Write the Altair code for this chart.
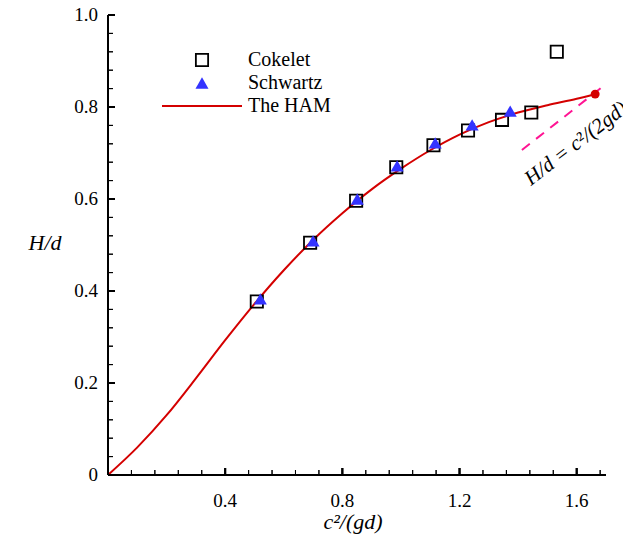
import altair as alt
import pandas as pd

# ---- data ----
cokelet_x = [0.508, 0.690, 0.847, 0.984, 1.111, 1.229, 1.345, 1.445, 1.532]
cokelet_y = [0.377, 0.505, 0.596, 0.669, 0.717, 0.749, 0.772, 0.788, 0.920]

schwartz_x = [0.520, 0.700, 0.851, 0.987, 1.117, 1.243, 1.373]
schwartz_y = [0.383, 0.509, 0.600, 0.672, 0.722, 0.761, 0.791]

ham_x = [0.0, 0.1, 0.2, 0.3, 0.4, 0.5, 0.6, 0.7, 0.8, 0.9, 1.0, 1.1, 1.2, 1.3, 1.4, 1.5, 1.6, 1.663]
ham_y = [0.0, 0.060, 0.130, 0.210, 0.293, 0.372, 0.445, 0.511, 0.569, 0.621, 0.666, 0.706, 0.740, 0.767, 0.788, 0.804, 0.818, 0.828]

ham_end_x = [1.663]
ham_end_y = [0.828]

limit_x = [1.413, 1.70]
limit_y = [0.7065, 0.85]

limit_label = ["H/d = c²/(2gd)"]
limit_label_x = [1.598]
limit_label_y = [0.720]

x_major = [0.4, 0.8, 1.2, 1.6]
x_major_labels = ["0.4", "0.8", "1.2", "1.6"]
x_minor = [0.08, 0.16, 0.24, 0.32, 0.48, 0.56, 0.64, 0.72, 0.88, 0.96, 1.04, 1.12,
           1.28, 1.36, 1.44, 1.52, 1.68]
y_major = [0.0, 0.2, 0.4, 0.6, 0.8, 1.0]
y_major_labels = ["0", "0.2", "0.4", "0.6", "0.8", "1.0"]
y_minor = [0.04, 0.08, 0.12, 0.16, 0.24, 0.28, 0.32, 0.36, 0.44, 0.48, 0.52, 0.56,
           0.64, 0.68, 0.72, 0.76, 0.84, 0.88, 0.92, 0.96]

x_title = ["c²/(gd)"]
y_title = ["H/d"]
legend_names = ["Cokelet", "Schwartz", "The HAM"]

# ---- styling ----
W, H = 498, 460
FONT = "Liberation Serif"
RED = "#d40000"
BLUE = "#3333ff"
PINK = "#ff1493"

xs = alt.Scale(domain=[0, 1.7], nice=False, zero=False)
ys = alt.Scale(domain=[0, 1.0], nice=False, zero=False)


def X(f):
    return alt.X(f, scale=xs, axis=None)


def Y(f):
    return alt.Y(f, scale=ys, axis=None)


df_c = pd.DataFrame({"x": cokelet_x, "y": cokelet_y})
df_s = pd.DataFrame({"x": schwartz_x, "y": schwartz_y})
df_h = pd.DataFrame({"x": ham_x, "y": ham_y})
df_e = pd.DataFrame({"x": ham_end_x, "y": ham_end_y})
df_l = pd.DataFrame({"x": limit_x, "y": limit_y})
df_t = pd.DataFrame({"x": limit_label_x, "y": limit_label_y, "t": limit_label})

# ---- data marks ----
limit = alt.Chart(df_l).mark_line(color=PINK, strokeWidth=2, strokeDash=[10, 8]).encode(
    x=X("x:Q"), y=Y("y:Q"))

ham = alt.Chart(df_h).mark_line(color=RED, strokeWidth=2, interpolate="monotone").encode(
    x=X("x:Q"), y=Y("y:Q"))


# inward ticks as rules at the tick values
def xticks(vals, length, width):
    return alt.Chart(pd.DataFrame({"v": vals})).mark_rule(color="black", strokeWidth=width).encode(
        x=alt.X("v:Q", scale=xs, axis=None), y=alt.value(H), y2=alt.value(H - length))


def yticks(vals, length, width):
    return alt.Chart(pd.DataFrame({"v": vals})).mark_rule(color="black", strokeWidth=width).encode(
        y=alt.Y("v:Q", scale=ys, axis=None), x=alt.value(0), x2=alt.value(length))


ticks = [xticks(x_minor, 5, 1), xticks(x_major, 7, 2),
         yticks(y_minor, 5, 1), yticks(y_major[1:], 7, 2)]


# the same ticks once more as short path symbols sitting on the axes
def xticks_pt(vals, length, width):
    d = pd.DataFrame({"x": vals, "y": [0.0] * len(vals)})
    return alt.Chart(d).mark_point(shape="M0,0L0,-2", size=length * length, color="black",
                                   strokeWidth=width, filled=False, opacity=1).encode(
        x=X("x:Q"), y=Y("y:Q"))


def yticks_pt(vals, length, width):
    d = pd.DataFrame({"x": [0.0] * len(vals), "y": vals})
    return alt.Chart(d).mark_point(shape="M0,0L2,0", size=length * length, color="black",
                                   strokeWidth=width, filled=False, opacity=1).encode(
        x=X("x:Q"), y=Y("y:Q"))


ticks_pt = [xticks_pt(x_minor, 5, 1), xticks_pt(x_major, 7, 2),
            yticks_pt(y_minor, 5, 1), yticks_pt(y_major[1:], 7, 2)]

squares = alt.Chart(df_c).mark_point(shape="square", size=150, color="black",
                                     strokeWidth=1.8, filled=False, opacity=1).encode(
    x=X("x:Q"), y=Y("y:Q"))

triangles = alt.Chart(df_s).mark_point(shape="triangle-up", size=170, color=BLUE,
                                       filled=True, opacity=1).encode(
    x=X("x:Q"), y=Y("y:Q"))

end_dot = alt.Chart(df_e).mark_circle(size=80, color=RED, opacity=1).encode(
    x=X("x:Q"), y=Y("y:Q"))

limit_text = alt.Chart(df_t).mark_text(font=FONT, fontSize=21, fontStyle="italic",
                                       angle=322.5, color="black", align="center",
                                       baseline="middle").encode(
    x=X("x:Q"), y=Y("y:Q"), text="t:N")

# ---- legend (drawn manually, in pixels of the plot area) ----
leg_sq = alt.Chart(pd.DataFrame({"a": [0]})).mark_point(
    shape="square", size=150, color="black", strokeWidth=1.8, filled=False, opacity=1
).encode(x=alt.value(94), y=alt.value(45))
leg_tr = alt.Chart(pd.DataFrame({"a": [0]})).mark_point(
    shape="triangle-up", size=170, color=BLUE, filled=True, opacity=1
).encode(x=alt.value(94), y=alt.value(68))
leg_ln = alt.Chart(pd.DataFrame({"a": [0]})).mark_rule(color=RED, strokeWidth=2).encode(
    x=alt.value(54), x2=alt.value(134), y=alt.value(91))
leg_txt = alt.Chart(pd.DataFrame({"name": legend_names, "yy": [45, 68, 91]})).mark_text(
    font=FONT, fontSize=20, align="left", baseline="middle", color="black"
).encode(x=alt.value(140), y=alt.Y("yy:Q", scale=None, axis=None), text="name:N")

# ---- axes drawn as marks ----
x_domain = alt.Chart(pd.DataFrame({"a": [0]})).mark_rule(color="black", strokeWidth=2).encode(
    x=alt.value(0), x2=alt.value(W), y=alt.value(H))
y_domain = alt.Chart(pd.DataFrame({"a": [0]})).mark_rule(color="black", strokeWidth=2).encode(
    y=alt.value(0), y2=alt.value(H), x=alt.value(0))

x_labels = alt.Chart(pd.DataFrame({"lx": x_major, "t": x_major_labels})).mark_text(
    font=FONT, fontSize=19, color="black", align="center", baseline="middle"
).encode(x=X("lx:Q"), y=alt.value(H + 26), text="t:N")

y_labels = alt.Chart(pd.DataFrame({"ly": y_major, "t": y_major_labels})).mark_text(
    font=FONT, fontSize=19, color="black", align="right", baseline="middle"
).encode(y=Y("ly:Q"), x=alt.value(-10), text="t:N")

x_title_mark = alt.Chart(pd.DataFrame({"t": x_title})).mark_text(
    font=FONT, fontSize=22, fontStyle="italic", color="black", align="center",
    baseline="middle").encode(x=alt.value(245), y=alt.value(H + 47), text="t:N")

y_title_mark = alt.Chart(pd.DataFrame({"t": y_title})).mark_text(
    font=FONT, fontSize=22, fontStyle="italic", color="black", align="center",
    baseline="middle").encode(x=alt.value(-63), y=alt.value(228), text="t:N")

chart = alt.layer(
    limit, ham, *ticks, squares, triangles, end_dot, limit_text,
    leg_sq, leg_tr, leg_ln, leg_txt,
    x_domain, y_domain, x_labels, y_labels, x_title_mark, y_title_mark, *ticks_pt
).properties(
    width=W, height=H,
    autosize=alt.AutoSizeParams(type="none"),
    padding={"left": 100, "top": 7, "right": 17, "bottom": 65},
).configure_view(stroke=None)

chart.save("out.html", embed_options={"renderer": "svg", "actions": False})
